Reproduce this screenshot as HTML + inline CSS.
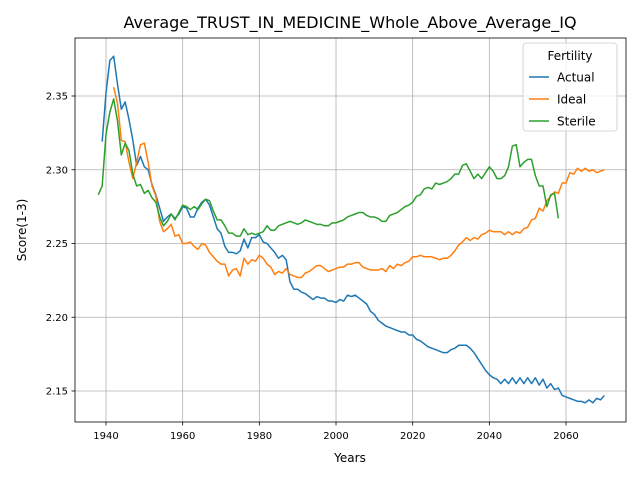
<!DOCTYPE html>
<html><head><meta charset="utf-8"><style>
body{margin:0;background:#fff;font-family:"Liberation Sans","DejaVu Sans",sans-serif;}
svg text{font-family:"DejaVu Sans","Liberation Sans",sans-serif;}
</style></head><body>
<svg id="chart" width="640" height="480" xmlns="http://www.w3.org/2000/svg"></svg>
<script>
const xTicks=[1940,1960,1980,2000,2020,2040,2060];
const yTicks=[2.15,2.20,2.25,2.30,2.35];
const actualStart=1939;
const actual=[2.319,2.352,2.374,2.377,2.358,2.341,2.346,2.334,2.320,2.303,2.309,2.302,2.300,2.290,2.283,2.274,2.265,2.268,2.270,2.267,2.270,2.275,2.274,2.268,2.268,2.274,2.278,2.280,2.276,2.268,2.260,2.257,2.248,2.244,2.244,2.243,2.245,2.253,2.247,2.254,2.254,2.256,2.251,2.250,2.247,2.244,2.240,2.242,2.239,2.224,2.219,2.219,2.217,2.216,2.214,2.212,2.214,2.213,2.213,2.211,2.211,2.210,2.212,2.211,2.215,2.214,2.215,2.213,2.211,2.209,2.204,2.202,2.198,2.196,2.194,2.193,2.192,2.191,2.190,2.190,2.188,2.188,2.185,2.184,2.182,2.180,2.179,2.178,2.177,2.176,2.176,2.178,2.179,2.181,2.181,2.181,2.179,2.176,2.172,2.168,2.164,2.161,2.159,2.158,2.155,2.158,2.155,2.159,2.155,2.159,2.155,2.159,2.155,2.159,2.154,2.158,2.152,2.155,2.151,2.152,2.147,2.146,2.145,2.144,2.143,2.143,2.142,2.144,2.142,2.145,2.144,2.147];
const idealStart=1942;
const ideal=[2.356,2.345,2.320,2.319,2.305,2.294,2.305,2.317,2.318,2.305,2.289,2.282,2.265,2.258,2.260,2.263,2.255,2.256,2.250,2.250,2.251,2.248,2.246,2.250,2.249,2.244,2.241,2.238,2.236,2.236,2.228,2.232,2.233,2.228,2.240,2.236,2.239,2.238,2.242,2.240,2.236,2.234,2.229,2.231,2.230,2.233,2.229,2.228,2.227,2.227,2.230,2.231,2.233,2.235,2.235,2.233,2.231,2.232,2.233,2.234,2.234,2.236,2.236,2.237,2.237,2.234,2.233,2.232,2.232,2.232,2.233,2.231,2.235,2.233,2.236,2.235,2.237,2.238,2.241,2.241,2.242,2.241,2.241,2.241,2.240,2.239,2.240,2.240,2.242,2.245,2.249,2.251,2.254,2.252,2.254,2.253,2.256,2.257,2.259,2.258,2.258,2.258,2.256,2.258,2.256,2.258,2.257,2.260,2.261,2.266,2.267,2.274,2.272,2.279,2.282,2.285,2.284,2.291,2.291,2.298,2.297,2.301,2.299,2.301,2.299,2.300,2.298,2.299,2.300];
const sterileStart=1938;
const sterile=[2.283,2.289,2.324,2.339,2.348,2.333,2.310,2.318,2.313,2.297,2.289,2.290,2.284,2.286,2.281,2.278,2.268,2.262,2.265,2.270,2.266,2.271,2.276,2.275,2.273,2.275,2.273,2.277,2.280,2.279,2.272,2.266,2.266,2.262,2.257,2.257,2.255,2.255,2.260,2.256,2.257,2.256,2.257,2.258,2.262,2.259,2.259,2.262,2.263,2.264,2.265,2.264,2.263,2.264,2.266,2.265,2.264,2.263,2.263,2.262,2.262,2.264,2.264,2.265,2.266,2.268,2.269,2.270,2.271,2.271,2.269,2.268,2.268,2.267,2.265,2.265,2.269,2.270,2.271,2.273,2.275,2.276,2.278,2.282,2.283,2.287,2.288,2.287,2.291,2.290,2.291,2.292,2.294,2.297,2.297,2.303,2.304,2.299,2.294,2.297,2.294,2.298,2.302,2.299,2.294,2.294,2.296,2.302,2.316,2.317,2.302,2.305,2.307,2.307,2.296,2.289,2.289,2.275,2.283,2.284,2.267];

const NS="http://www.w3.org/2000/svg";
const svg=document.getElementById('chart');
const L=75,R=626,T=38,B=422;
function xs(y){return 106+(y-1940)*(76.67/20);}
function ys(v){return 96+(2.35-v)*1475;}
function mk(tag,attrs,parent){const e=document.createElementNS(NS,tag);for(const k in attrs)e.setAttribute(k,attrs[k]);(parent||svg).appendChild(e);return e;}

const grid=mk('g',{});


xTicks.forEach(t=>{
  const x=xs(t);
  const gl=mk('line',{x1:x,x2:x,y1:T,y2:B,stroke:'#b0b0b0','stroke-width':0.8},grid);
  
  
  mk('line',{x1:x,x2:x,y1:B,y2:B+3.5,stroke:'#000','stroke-width':0.8});
  const tx=mk('text',{x:x,y:B+17,'text-anchor':'middle','font-size':10});
  tx.textContent=t;
  
  
});
yTicks.forEach(t=>{
  const y=ys(t);
  const gl=mk('line',{x1:L,x2:R,y1:y,y2:y,stroke:'#b0b0b0','stroke-width':0.8},grid);
  
  
  mk('line',{x1:L-3.5,x2:L,y1:y,y2:y,stroke:'#000','stroke-width':0.8});
  const tx=mk('text',{x:L-7,y:y+3.5,'text-anchor':'end','font-size':10});
  tx.textContent=t.toFixed(2);
  
  
});

function series(data,start,color,name){
  const pts=data.map((v,i)=>xs(start+i).toFixed(2)+','+ys(v).toFixed(2)).join(' ');
  const p=mk('polyline',{points:pts,fill:'none',stroke:color,'stroke-width':1.5,'stroke-linejoin':'round'});
  
  
}
series(actual,actualStart,'#1f77b4','actual-line');
series(ideal,idealStart,'#ff7f0e','ideal-line');
series(sterile,sterileStart,'#2ca02c','sterile-line');

const frame=mk('rect',{x:L,y:T,width:R-L,height:B-T,fill:'none',stroke:'#000','stroke-width':0.8});



const title=mk('text',{x:350,y:28,'text-anchor':'middle','font-size':16});
title.textContent='Average_TRUST_IN_MEDICINE_Whole_Above_Average_IQ';


const xl=mk('text',{x:350,y:462,'text-anchor':'middle','font-size':12});
xl.textContent='Years';


const yl=mk('text',{x:0,y:0,'text-anchor':'middle','font-size':12,transform:'translate(26,230) rotate(-90)'});
yl.textContent='Score(1-3)';



const lg=mk('g',{});


mk('rect',{x:523,y:43,width:94,height:88,rx:3,fill:'#fff','fill-opacity':0.8,stroke:'#ccc','stroke-width':0.8},lg);
const lt=mk('text',{x:570,y:60,'text-anchor':'middle','font-size':12},lg);
lt.textContent='Fertility';


[['Actual','#1f77b4'],['Ideal','#ff7f0e'],['Sterile','#2ca02c']].forEach((d,i)=>{
  const y=77+i*22;
  const ln=mk('line',{x1:529,x2:549,y1:y,y2:y,stroke:d[1],'stroke-width':1.5},lg);
  
  
  const t=mk('text',{x:557,y:y+4.5,'font-size':12},lg);
  t.textContent=d[0];
  
  
});
</script>
</body></html>
